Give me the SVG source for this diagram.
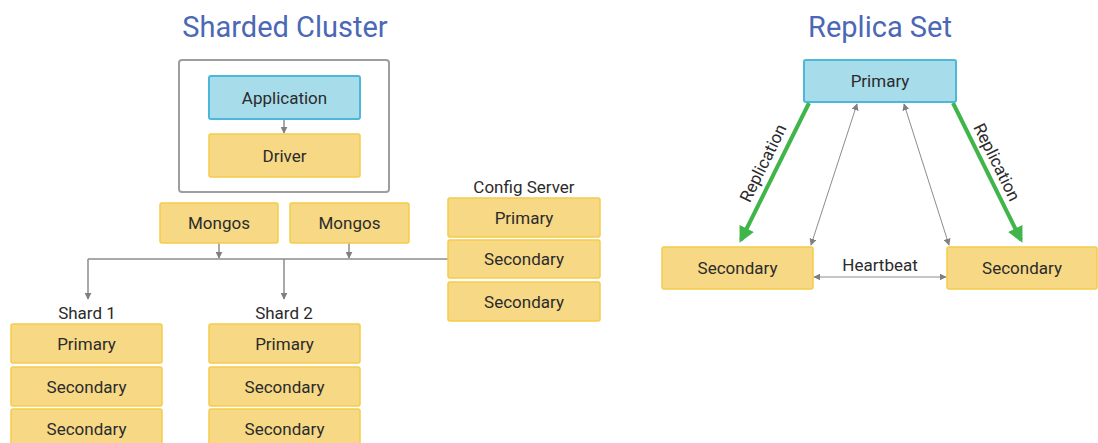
<svg xmlns="http://www.w3.org/2000/svg" width="1098" height="443" viewBox="0 0 1098 443">
<defs>
<style>
.y{fill:#f6d885;stroke:#f5cb4a;stroke-width:1.5}
.b{fill:#a7dcea;stroke:#4db7d9;stroke-width:2}
.t{font-family:Roboto,"Liberation Sans",sans-serif;font-size:17px;fill:#2b2b2b;text-anchor:middle;dominant-baseline:central}
.h{font-family:Roboto,"Liberation Sans",sans-serif;font-size:29px;fill:#4a68b6;text-anchor:middle}
.g{stroke:#8c8c8c;stroke-width:1.5;fill:none}
.gr{stroke:#3fb54a;stroke-width:4;fill:none}
</style>
<marker id="ah" viewBox="0 0 10 10" refX="9" refY="5" markerWidth="7" markerHeight="7" markerUnits="userSpaceOnUse" orient="auto-start-reverse"><path d="M0,0L10,5L0,10z" fill="#7f7f7f"/></marker>
<marker id="ag" viewBox="0 0 10 10" refX="8" refY="5" markerWidth="4" markerHeight="4" orient="auto"><path d="M0,0L10,5L0,10z" fill="#3fb54a"/></marker>
</defs>
<text class="h" x="285" y="37">Sharded Cluster</text>
<text class="h" x="880" y="37">Replica Set</text>
<rect x="179" y="60" width="210" height="132" rx="3" fill="#fff" stroke="#9e9e9e" stroke-width="2"/>
<g id="connectors">
<path class="g" d="M284 119V133" marker-end="url(#ah)"/>
<path class="g" d="M219 243V258" marker-end="url(#ah)"/>
<path class="g" d="M349 243V258" marker-end="url(#ah)"/>
<path class="g" d="M88 259H448"/>
<path class="g" d="M88 259V299" marker-end="url(#ah)"/>
<path class="g" d="M284 259V299" marker-end="url(#ah)"/>
<path class="gr" d="M809 103L741 240" marker-end="url(#ag)"/>
<path class="gr" d="M953 103L1021 240" marker-end="url(#ag)"/>
<path stroke="#8c8c8c" stroke-width="1" fill="none" d="M857 104L811 245" marker-start="url(#ah)" marker-end="url(#ah)"/>
<path stroke="#8c8c8c" stroke-width="1" fill="none" d="M904 104L949 245" marker-start="url(#ah)" marker-end="url(#ah)"/>
<path stroke="#8c8c8c" stroke-width="1" fill="none" d="M814 277H946" marker-start="url(#ah)" marker-end="url(#ah)"/>
<text class="t" x="763" y="163" transform="rotate(-63.7 763 163)">Replication</text>
<text class="t" x="997" y="162" transform="rotate(63.7 997 162)">Replication</text>
<text class="t" x="880" y="265">Heartbeat</text>
</g>
<g id="application"><rect class="b" x="209" y="76" width="151" height="43" rx="2"/><text class="t" x="284.5" y="97.5">Application</text></g>
<g id="driver"><rect class="y" x="209" y="134" width="151" height="43" rx="2"/><text class="t" x="284.5" y="155.5">Driver</text></g>
<g id="mongos1"><rect class="y" x="160" y="203" width="118" height="40" rx="2"/><text class="t" x="219" y="223">Mongos</text></g>
<g id="mongos2"><rect class="y" x="290" y="203" width="119" height="40" rx="2"/><text class="t" x="349.5" y="223">Mongos</text></g>
<g id="config">
<text class="t" x="524" y="187">Config Server</text>
<rect class="y" x="448" y="198" width="152" height="39" rx="2"/><text class="t" x="524" y="217.5">Primary</text>
<rect class="y" x="448" y="240" width="152" height="38" rx="2"/><text class="t" x="524" y="259">Secondary</text>
<rect class="y" x="448" y="282" width="152" height="39" rx="2"/><text class="t" x="524" y="301.5">Secondary</text>
</g>
<g id="shard1">
<text class="t" x="87" y="313">Shard 1</text>
<rect class="y" x="11" y="324" width="151" height="39" rx="2"/><text class="t" x="86.5" y="343.5">Primary</text>
<rect class="y" x="11" y="367" width="151" height="39" rx="2"/><text class="t" x="86.5" y="386.5">Secondary</text>
<rect class="y" x="11" y="409" width="151" height="39" rx="2"/><text class="t" x="86.5" y="428.5">Secondary</text>
</g>
<g id="shard2">
<text class="t" x="284" y="313">Shard 2</text>
<rect class="y" x="209" y="324" width="151" height="39" rx="2"/><text class="t" x="284.5" y="343.5">Primary</text>
<rect class="y" x="209" y="367" width="151" height="39" rx="2"/><text class="t" x="284.5" y="386.5">Secondary</text>
<rect class="y" x="209" y="409" width="151" height="39" rx="2"/><text class="t" x="284.5" y="428.5">Secondary</text>
</g>
<g id="rs-primary"><rect class="b" x="804" y="60" width="152" height="42" rx="2"/><text class="t" x="880" y="81">Primary</text></g>
<g id="rs-secondary1"><rect class="y" x="662" y="247" width="151" height="42" rx="2"/><text class="t" x="737.5" y="268">Secondary</text></g>
<g id="rs-secondary2"><rect class="y" x="947" y="247" width="150" height="42" rx="2"/><text class="t" x="1022" y="268">Secondary</text></g>
</svg>
